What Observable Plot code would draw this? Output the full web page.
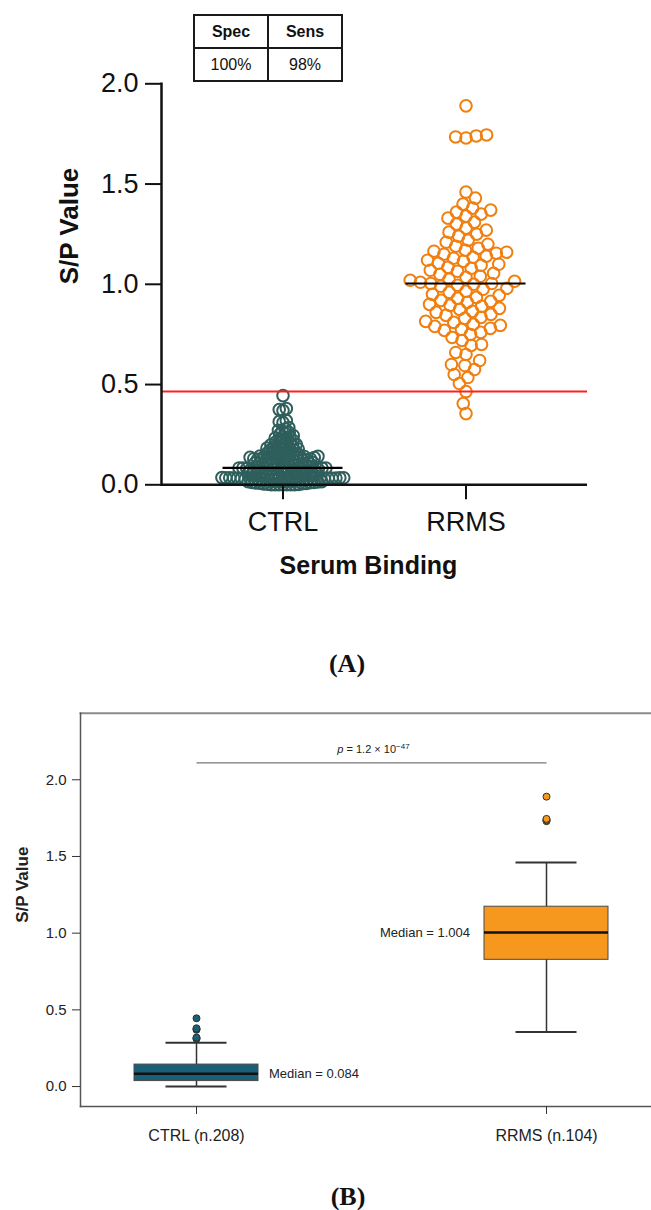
<!DOCTYPE html>
<html>
<head>
<meta charset="utf-8">
<script src="https://cdn.jsdelivr.net/npm/d3@7"></script>
<script src="https://cdn.jsdelivr.net/npm/@observablehq/plot@0.6"></script>
<style>
  body { margin: 0; background: #fff; }
  #page { position: relative; width: 651px; height: 1210px; overflow: hidden; background: #fff;
          font-family: "Liberation Sans", Arial, Helvetica, sans-serif; color: #111; }
  #panelA { position: absolute; left: 0; top: 0; }
  #panelB { position: absolute; left: 0; top: 690px; }
  .tag { position: absolute; font-family: "Liberation Serif", "Times New Roman", serif; font-weight: bold;
         font-size: 26px; transform: translate(-50%, -50%); white-space: nowrap; }
  #stats { position: absolute; left: 193px; top: 14px; border-collapse: collapse; }
  #stats td { border: 2px solid #1a1a1a; width: 72px; height: 31px; padding: 0; text-align: center;
              font-size: 16px; font-family: "Liberation Sans", Arial, sans-serif; }
  #stats tr:first-child td { font-weight: bold; }
</style>
</head>
<body>
<div id="page">
  <div id="panelA"></div>
  <div id="panelB"></div>
  <table id="stats"></table>
  <div class="tag" style="left:347px;top:664px">(A)</div>
  <div class="tag" style="left:348px;top:1197px">(B)</div>
</div>
<script>
// ---------------- data ----------------
const groups = ["CTRL", "RRMS"];

const ctrlValues = [
  0, 0, 0, 0, 0, 0, 0, 0.002, 0.003, 0.004, 0.006, 0.007, 0.008, 0.009, 0.011, 0.012, 0.012,
  0.014, 0.015, 0.016, 0.017, 0.019, 0.020, 0.021, 0.022, 0.022, 0.023, 0.024, 0.025, 0.026, 0.026,
  0.027, 0.028, 0.028, 0.029, 0.030, 0.030, 0.031, 0.031, 0.032, 0.032, 0.033, 0.033, 0.033, 0.034,
  0.034, 0.034, 0.035, 0.035, 0.035, 0.035, 0.035,
  0.036, 0.037, 0.039, 0.040, 0.041, 0.041, 0.043, 0.044, 0.045, 0.046, 0.046, 0.048, 0.049, 0.050,
  0.051, 0.052, 0.052, 0.054, 0.055, 0.056, 0.057, 0.057, 0.059, 0.060, 0.061, 0.062, 0.063, 0.063,
  0.065, 0.066, 0.067, 0.068, 0.069, 0.070, 0.071, 0.071, 0.073, 0.074, 0.075, 0.076, 0.077, 0.077,
  0.078, 0.079, 0.080, 0.081, 0.081, 0.082, 0.083, 0.083, 0.084, 0.084,
  0.084, 0.085, 0.087, 0.088, 0.089, 0.090, 0.092, 0.093, 0.094, 0.095, 0.097, 0.098, 0.099, 0.100,
  0.101, 0.103, 0.104, 0.105, 0.106, 0.108, 0.109, 0.110, 0.111, 0.112, 0.114, 0.115, 0.116, 0.117,
  0.118, 0.119, 0.121, 0.122, 0.123, 0.124, 0.125, 0.127, 0.128, 0.129, 0.130, 0.131, 0.132, 0.133,
  0.134, 0.135, 0.136, 0.137, 0.138, 0.139, 0.140, 0.141, 0.142, 0.143,
  0.144, 0.146, 0.148, 0.150, 0.152, 0.154, 0.156, 0.158, 0.160, 0.162, 0.165, 0.167, 0.169, 0.171,
  0.174, 0.176, 0.178, 0.181, 0.183, 0.186, 0.188, 0.191, 0.194, 0.196, 0.199, 0.202, 0.205, 0.208,
  0.211, 0.214, 0.218, 0.221, 0.225, 0.229, 0.233, 0.237, 0.241, 0.246, 0.251, 0.256, 0.261, 0.266,
  0.272, 0.278, 0.285, 0.310, 0.315, 0.320, 0.370, 0.375, 0.380, 0.445
];

const rrmsValues = [
  0.355, 0.405, 0.465, 0.505, 0.535, 0.550, 0.575, 0.595, 0.600, 0.620, 0.650, 0.660, 0.695,
  0.700, 0.720, 0.735, 0.750, 0.760, 0.770, 0.775, 0.780, 0.790, 0.795, 0.800, 0.810, 0.815,
  0.830, 0.835, 0.845, 0.850, 0.860, 0.865, 0.875, 0.880, 0.890, 0.895, 0.900, 0.910, 0.915,
  0.920, 0.930, 0.935, 0.945, 0.950, 0.960, 0.965, 0.975, 0.980, 0.990, 0.995, 1.000, 1.004,
  1.004, 1.010, 1.015, 1.020, 1.025, 1.035, 1.040, 1.050, 1.055, 1.065, 1.070, 1.080, 1.085,
  1.095, 1.100, 1.105, 1.115, 1.120, 1.130, 1.135, 1.140, 1.150, 1.155, 1.160, 1.165, 1.170,
  1.180, 1.190, 1.200, 1.210, 1.220, 1.240, 1.250, 1.260, 1.270, 1.280, 1.300, 1.310, 1.330,
  1.340, 1.350, 1.360, 1.370, 1.380, 1.400, 1.430, 1.460, 1.730, 1.735, 1.740, 1.745, 1.890
];

const cutoff = [0.465];                 // red threshold line (panel A)
const tableHeader = ["Spec", "Sens"];
const tableRow = ["100%", "98%"];
const medianLabels = [0.084, 1.004];    // printed medians (panel B)
const pValueLabel = ["p = 1.2 × 10−47"];
const bracket = [{from: "CTRL", to: "RRMS", level: 2.11}];

// ---------------- derived tables ----------------
const valuesBy = {CTRL: ctrlValues, RRMS: rrmsValues};
const long = groups.flatMap(g => valuesBy[g].map(value => ({group: g, value})));
const stats = groups.map((g, i) => {
  const v = valuesBy[g].slice().sort(d3.ascending);
  const q1 = d3.quantile(v, 0.25), q3 = d3.quantile(v, 0.75), iqr = q3 - q1;
  const lo = d3.min(v.filter(x => x >= q1 - 1.5 * iqr));
  const hi = d3.max(v.filter(x => x <= q3 + 1.5 * iqr));
  return {group: g, q1, q3, lo, hi, median: d3.median(v), n: v.length,
          label: `Median = ${medianLabels[i].toFixed(3)}`};
});
const statsBy = Object.fromEntries(stats.map(s => [s.group, s]));
const outliers = long.filter(d => d.value < statsBy[d.group].lo || d.value > statsBy[d.group].hi);

// ---------------- table ----------------
const table = document.getElementById("stats");
for (const row of [tableHeader, tableRow]) {
  const tr = table.insertRow();
  for (const c of row) tr.insertCell().textContent = c;
}

// shift a middle-anchored beeswarm onto the centre of a band of the x scale
function atBand(group) {
  return (data, facets, channels, scales, dimensions) => {
    const {width, marginLeft, marginRight} = dimensions;
    const mid = (marginLeft + width - marginRight) / 2;
    const target = scales.x(group);   // scale function given to initializers returns the band centre
    const X = Float64Array.from(channels.x.value, v => v - mid + target);
    return {data, facets, channels: {x: {value: X}}};
  };
}

const colorA = {CTRL: "#2f5f5c", RRMS: "#f07f0f"};
const colorB = {CTRL: "#1b5e78", RRMS: "#f7981e"};

// ---------------- panel A ----------------
const plotA = Plot.plot({
  width: 651, height: 600,
  marginLeft: 161, marginRight: 64, marginTop: 83.3, marginBottom: 115.7,
  style: {fontFamily: "'Liberation Sans', Arial, Helvetica, sans-serif", color: "#111", background: "transparent", overflow: "visible"},
  x: {type: "band", domain: groups, paddingInner: 0, paddingOuter: 0.158},
  y: {domain: [0, 2]},
  marks: [
    Plot.dot(ctrlValues, Plot.initializer(
      Plot.dodgeX({anchor: "middle", r: 2.15, padding: -0.4}, {y: d => d, r: 5.8, stroke: colorA.CTRL, strokeWidth: 2}),
      atBand("CTRL"))),
    Plot.dot(rrmsValues, Plot.initializer(
      Plot.dodgeX({anchor: "middle", padding: -1.2}, {y: d => d, r: 5.8, stroke: colorA.RRMS, strokeWidth: 2}),
      atBand("RRMS"))),
    Plot.ruleY(cutoff, {stroke: "#ff1f1f", strokeWidth: 2}),
    Plot.tickY(stats, {x: "group", y: "median", insetLeft: 31.5, insetRight: 31.5, stroke: "#000", strokeWidth: 2.2}),
    Plot.axisY({ticks: [0, 0.5, 1, 1.5, 2], tickFormat: d3.format(".1f"), tickSize: 16, tickPadding: 7,
                fontSize: 27, strokeWidth: 2, label: null}),
    Plot.axisX({tickSize: 15, tickPadding: 12, fontSize: 27, strokeWidth: 2, label: null}),
    Plot.ruleY([0], {stroke: "#111", strokeWidth: 2.5}),
    Plot.frame({anchor: "left", stroke: "#111", strokeWidth: 2.5}),
    Plot.text(["S/P Value"], {frameAnchor: "left", rotate: -90, dx: -92, fontWeight: "bold", fontSize: 26}),
    Plot.text(["Serum Binding"], {frameAnchor: "bottom", dy: 89, dx: -6, fontWeight: "bold", fontSize: 25})
  ]
});
document.getElementById("panelA").append(plotA);

// ---------------- panel B ----------------
const plotB = Plot.plot({
  width: 651, height: 480,
  marginLeft: 80, marginRight: 0, marginTop: 22.7, marginBottom: 64,
  style: {fontFamily: "'Liberation Sans', Arial, Helvetica, sans-serif", color: "#222", background: "transparent", overflow: "visible"},
  x: {type: "band", domain: groups, paddingInner: 0.646, paddingOuter: 0, insetLeft: 54, insetRight: 42.6},
  y: {domain: [-0.130, 2.434]},
  marks: [
    Plot.frame({anchor: "top", stroke: "#8a8a8a", strokeWidth: 2}),
    Plot.frame({anchor: "left", stroke: "#555", strokeWidth: 1.5}),
    Plot.frame({anchor: "bottom", stroke: "#555", strokeWidth: 1.5}),
    Plot.ruleX(stats, {x: "group", y1: "lo", y2: "hi", stroke: "#333", strokeWidth: 1.5}),
    Plot.tickY(stats, {x: "group", y: "lo", insetLeft: 31.5, insetRight: 31.5, stroke: "#333", strokeWidth: 2}),
    Plot.tickY(stats, {x: "group", y: "hi", insetLeft: 31.5, insetRight: 31.5, stroke: "#333", strokeWidth: 2}),
    Plot.barY(stats, {x: "group", y1: "q1", y2: "q3", fill: d => colorB[d.group], stroke: "#4a4a4a", strokeWidth: 1}),
    Plot.tickY(stats, {x: "group", y: "median", stroke: "#111", strokeWidth: 2.5}),
    Plot.dot(outliers, {x: "group", y: "value", r: 3.5, fill: d => colorB[d.group], stroke: "#333", strokeWidth: 1}),
    Plot.text(stats.filter(s => s.group === "CTRL"), {x: "group", y: "median", text: "label", textAnchor: "start", dx: 72.5, fontSize: 13, fill: "#222"}),
    Plot.text(stats.filter(s => s.group === "RRMS"), {x: "group", y: "median", text: "label", textAnchor: "end", dx: -76.5, fontSize: 13, fill: "#222"}),
    Plot.link(bracket, {x1: "from", x2: "to", y1: "level", y2: "level", stroke: "#555", strokeWidth: 1}),
    Plot.text(bracket, {x: "from", y: "level", text: () => pValueLabel[0], dx: 177, dy: -13, fontSize: 11, fill: "#222"}),
    Plot.axisY({ticks: [0, 0.5, 1, 1.5, 2], tickFormat: d3.format(".1f"), tickSize: 8, tickPadding: 6,
                fontSize: 15, stroke: "#333", label: null}),
    Plot.axisX({tickSize: 8, tickPadding: 15, fontSize: 16, stroke: "#333", label: null,
                tickFormat: g => `${g} (n.${statsBy[g].n})`}),
    Plot.text(["S/P Value"], {frameAnchor: "left", rotate: -90, dx: -57.5, dy: 13, fontWeight: "bold", fontSize: 17})
  ]
});
document.getElementById("panelB").append(plotB);

// italic p and superscript exponent in the p-value annotation
const pText = [...plotB.querySelectorAll("text")].find(t => t.textContent === pValueLabel[0]);
if (pText) {
  const NS = "http://www.w3.org/2000/svg";
  const [, rest, exp] = pValueLabel[0].match(/^p(.*?10)(.*)$/);
  pText.textContent = "";
  const t1 = document.createElementNS(NS, "tspan"); t1.setAttribute("font-style", "italic"); t1.textContent = "p";
  const t2 = document.createElementNS(NS, "tspan"); t2.textContent = rest;
  const t3 = document.createElementNS(NS, "tspan"); t3.setAttribute("baseline-shift", "super"); t3.setAttribute("font-size", "8"); t3.textContent = exp;
  pText.append(t1, t2, t3);
}
</script>
</body>
</html>
